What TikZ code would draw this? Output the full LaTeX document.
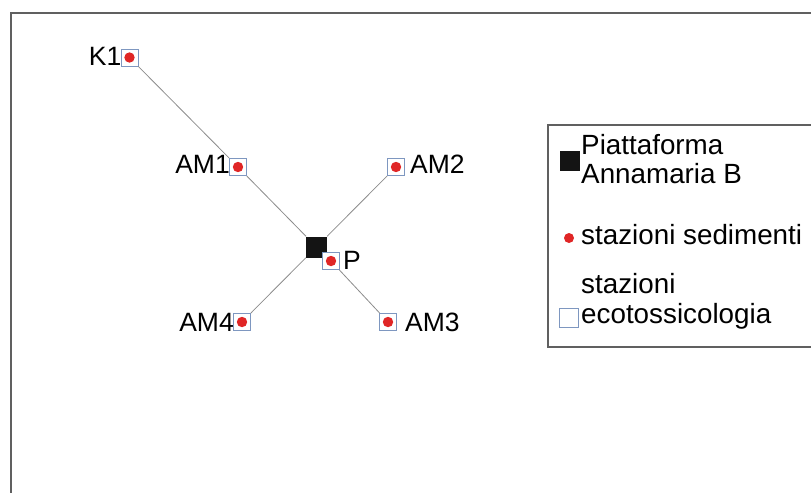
\documentclass[tikz,border=0pt]{standalone}
\usepackage{fontspec}
\setmainfont{Liberation Sans}
\definecolor{framegray}{HTML}{606060}
\definecolor{linegray}{HTML}{8C8C8C}
\definecolor{boxblue}{HTML}{7E97C0}
\definecolor{dotred}{HTML}{E02626}
\begin{document}
\begin{tikzpicture}[x=1pt,y=-1pt,
 station/.style={rectangle,draw=boxblue,line width=0.8pt,fill=white,minimum size=17pt,inner sep=0pt,
   path picture={\fill[dotred] (path picture bounding box.center) circle (5.2pt);}},
 platform/.style={rectangle,fill=black!92,minimum size=21pt,inner sep=0pt},
 lbl/.style={inner sep=0pt,font=\fontsize{26.5}{26.5}\selectfont},
 leg/.style={inner sep=0pt,font=\fontsize{27.8}{27.8}\selectfont,anchor=base west},
 conn/.style={draw=linegray,line width=0.8pt}]
\useasboundingbox (0,0) rectangle (811,493);
\draw[framegray,line width=2pt] (811,13) -- (11,13) -- (11,493);
% stations
\node[station] (K1) at (129.5,57.5) {};
\node[station] (AM1) at (238,167) {};
\node[station] (AM2) at (396,167) {};
\node[platform] (B) at (316.5,247) {};
\node[station] (P) at (331,261) {};
\node[station] (AM4) at (242,322) {};
\node[station] (AM3) at (388,322) {};
% connectors
\draw[conn] (K1) -- (AM1);
\draw[conn] (AM1) -- (B);
\draw[conn] (AM2) -- (B);
\draw[conn] (B) -- (AM4);
\draw[conn] (P) -- (AM3);
% labels
\node[lbl,anchor=base east] (tK1) at (121.5,65) {K1};
\node[lbl,anchor=base east] (tAM1) at (230,173) {AM1};
\node[lbl,anchor=base west] (tAM2) at (410,173) {AM2};
\node[lbl,anchor=base east] (tAM4) at (234,331) {AM4};
\node[lbl,anchor=base west] (tAM3) at (405,331) {AM3};
\node[lbl,anchor=base west] (tP) at (343,269) {P};
% legend
\draw[framegray,line width=1.5pt] (811,125) -- (548,125) -- (548,347) -- (811,347);
\node[platform,minimum size=20pt] (legB) at (570,160.5) {};
\node[leg] (lt1) at (581,154) {Piattaforma};
\node[leg] (lt2) at (581,183) {Annamaria B};
\node[circle,fill=dotred,minimum size=10pt,inner sep=0pt] (legdot) at (569,238) {};
\node[leg] (lt3) at (581,244) {stazioni sedimenti};
\node[rectangle,draw=boxblue,line width=0.8pt,minimum size=19pt,inner sep=0pt] (legsq) at (568.5,317.5) {};
\node[leg] (lt4) at (581,293) {stazioni};
\node[leg] (lt5) at (581,323) {ecotossicologia};
\end{tikzpicture}
\end{document}
